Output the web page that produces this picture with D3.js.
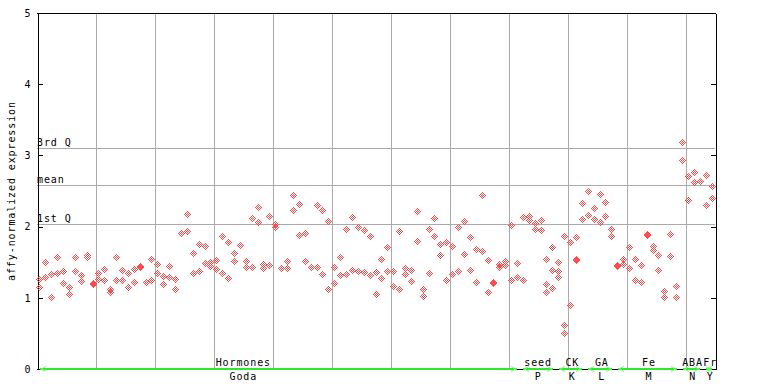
<!DOCTYPE html>
<meta charset="utf-8">

<!-- Load d3.js -->
<script src="https://cdn.jsdelivr.net/npm/d3@7"></script>

<style>
  body { margin: 0; background: #fff; }
  text { font-family: "DejaVu Sans Mono", monospace; font-size: 10px; letter-spacing: 0.9px; }
</style>

<!-- Create a div where the graph will take place -->
<div id="my_dataviz"></div>

<script>

// expression values, one inner list per sample column (replicates)
var expr = [
  [1.26,1.15],[1.49,1.29],[1.33,1.00],[1.56,1.34],[1.37,1.20],[1.15,1.04],[1.56,1.37],[1.32,1.23],[1.59,1.57],[1.20,1.18],
  [1.34,1.26],[1.40,1.25],[1.12,1.08],[1.56,1.25],[1.39,1.25],[1.34,1.15],[1.40,1.22],[1.44,1.43],[1.22,1.21],[1.54,1.25],
  [1.47,1.34],[1.30,1.18],[1.44,1.29],[1.26,1.12],[1.91],[2.17,1.93],[1.62,1.34],[1.75,1.37],[1.72,1.48],[1.50,1.44],
  [1.53,1.40],[1.86,1.34],[1.78,1.27],[1.62,1.51],[1.74],[1.51,1.43],[2.12,1.43],[2.27,2.06],[1.47,1.41],[2.14,1.46],
  [2.03,1.99],[1.41],[1.51,1.41],[2.44,2.23],[2.31,1.88],[1.91,1.51],[1.43],[2.30,1.43],[2.23,1.33],[2.07,1.12],
  [1.43,1.20],[1.57,1.32],[1.96,1.33],[2.13,1.39],[1.99,1.37],[1.95,1.36],[1.86,1.32],[1.36,1.04],[1.54,1.27],[1.70,1.37],
  [1.37,1.16],[1.93,1.11],[1.41,1.33],[1.39,1.23],[2.21,1.79],[1.12,1.02],[1.96,1.34],[2.12,1.86],[1.75,1.60],[1.77,1.25],
  [1.72,1.33],[1.99,1.37],[2.07,1.61],[1.85,1.39],[1.68,1.22],[2.44,1.65],[1.53,1.08],[1.21,1.20],[1.47,1.43],[1.51,1.46],
  [2.02,1.25],[1.48,1.29],[2.13,1.25],[2.14,2.09],[2.05,1.96],[2.09,1.95],[1.54,1.19,1.08],[1.71,1.39,1.13],[1.50,1.37,1.29],[1.86,0.61,0.50],
  [1.78,0.89],[1.84,1.54,1.53],[2.33,2.10],[2.50,2.16],[2.26,2.10],[2.45,2.06],[2.34,2.14],[1.96,1.86],[1.45,1.44],[1.54,1.47],
  [1.71,1.41],[1.54,1.25],[1.46,1.22],[1.89,1.88],[1.72,1.67],[1.60,1.39],[1.09,1.01],[1.89,1.58],[1.16,1.01],[3.18,2.93],
  [2.71,2.36],[2.76,2.62],[2.64,2.63],[2.72,2.30],[2.57,2.40]
];

// sample groups along the bottom
var groupTop    = ["Hormones", "seed", "CK", "GA", "Fe", "ABA", "Fr"];
var groupBottom = ["Goda", "P", "K", "L", "M", "N", "Y"];
var groupStart  = [0, 82, 88, 93, 98, 109, 113];
var groupEnd    = [81, 87, 92, 97, 108, 112, 114];
var groupLabelAt = [34.5, 84.5, 90.3, 95.3, 103.3, 110.7, 113.7];

// quartile / mean reference lines
var refNames  = ["3rd Q", "mean", "1st Q"];
var refValues = [3.10, 2.58, 2.03];

var yTicks = [0, 1, 2, 3, 4, 5];

var W = 768, H = 384;
var margin = {top: 13, right: 53, bottom: 15, left: 37};
var pLeft = margin.left, pRight = W - margin.right, pTop = margin.top, pBottom = H - margin.bottom;

var svg = d3.select("#my_dataviz")
  .append("svg")
    .attr("width", W)
    .attr("height", H)
    .attr("shape-rendering", "crispEdges");

var x = d3.scaleLinear()
  .domain([-0.5, expr.length - 0.5])
  .range([pLeft, pRight]);

var y = d3.scaleLinear()
  .domain([0, 5])
  .range([pBottom, pTop]);

var px = function(v) { return Math.round(v) + 0.5; };

// vertical grid every 10 samples
svg.append("g")
  .selectAll("line")
  .data(d3.range(10, expr.length, 10))
  .enter().append("line")
    .attr("x1", function(d) { return px(x(d - 0.5)); })
    .attr("x2", function(d) { return px(x(d - 0.5)); })
    .attr("y1", pTop)
    .attr("y2", pBottom)
    .attr("stroke", "#aaa");

// reference lines + labels
svg.append("g")
  .selectAll("line")
  .data(refValues)
  .enter().append("line")
    .attr("x1", pLeft)
    .attr("x2", pRight)
    .attr("y1", function(d) { return px(y(d)); })
    .attr("y2", function(d) { return px(y(d)); })
    .attr("stroke", "#aaa");

svg.append("g")
  .selectAll("text")
  .data(refValues)
  .enter().append("text")
    .attr("x", pLeft)
    .attr("y", function(d) { return Math.round(y(d)) - 2; })
    .text(function(d, i) { return refNames[i]; });

// frame
svg.append("line").attr("x1", pLeft).attr("x2", pRight).attr("y1", pTop + 0.5).attr("y2", pTop + 0.5).attr("stroke", "#000");
svg.append("line").attr("x1", pLeft).attr("x2", pRight).attr("y1", pBottom + 0.5).attr("y2", pBottom + 0.5).attr("stroke", "#000");

// left axis, ticks pointing in
var yAxisL = svg.append("g")
  .attr("transform", "translate(" + (pLeft + 0.5) + ",0)")
  .call(d3.axisLeft(y).tickValues(yTicks).tickSizeInner(-5).tickSizeOuter(0).tickPadding(6).tickFormat(d3.format("d")));
yAxisL.attr("font-family", null).attr("font-size", null);
yAxisL.selectAll("text").attr("fill", "#000");

// right axis, ticks only
svg.append("g")
  .attr("transform", "translate(" + (pRight + 0.5) + ",0)")
  .call(d3.axisRight(y).tickValues(yTicks).tickSizeInner(-5).tickSizeOuter(0).tickFormat(""));

// y label
svg.append("text")
  .attr("transform", "translate(15," + ((pTop + pBottom) / 2) + ") rotate(-90)")
  .attr("text-anchor", "middle")
  .text("affy-normalized expression");

// diamond glyph: checkered 7x7 diamond
var glyph = [];
for (var dx = -3; dx <= 3; dx++) {
  for (var dy = -3; dy <= 3; dy++) {
    if (Math.abs(dx) + Math.abs(dy) <= 3 && Math.abs(dx + dy) % 2 === 1)
      glyph.push("M" + dx + "," + dy + "h1v1h-1z");
  }
}
glyph = glyph.join("");

var points = [];
expr.forEach(function(vals, i) {
  vals.forEach(function(v) { points.push({col: i, value: v}); });
});

svg.append("g")
  .selectAll("path")
  .data(points)
  .enter().append("path")
    .attr("d", glyph)
    .attr("transform", function(d) {
      return "translate(" + Math.floor(x(d.col)) + "," + Math.floor(y(d.value)) + ")";
    })
    .attr("fill", "#ff4d4d");

// group bars along the x axis
var groups = svg.append("g");
groupStart.forEach(function(s, i) {
  var x0 = Math.round(x(s)), x1 = Math.round(x(groupEnd[i]));
  groups.append("rect")
    .attr("x", x0).attr("y", pBottom - 1)
    .attr("width", x1 - x0).attr("height", 2)
    .attr("fill", "#2ee82e");
  groups.append("path")
    .attr("d", "M" + (x0 + 6) + "," + (pBottom - 2.5) + "L" + (x0 + 1) + "," + pBottom + "L" + (x0 + 6) + "," + (pBottom + 2.5))
    .attr("fill", "none").attr("stroke", "#66ff66").attr("shape-rendering", "auto");
  groups.append("path")
    .attr("d", "M" + (x1 - 6) + "," + (pBottom - 2.5) + "L" + (x1 - 1) + "," + pBottom + "L" + (x1 - 6) + "," + (pBottom + 2.5))
    .attr("fill", "none").attr("stroke", "#66ff66").attr("shape-rendering", "auto");
});

svg.append("g")
  .selectAll("text")
  .data(groupTop)
  .enter().append("text")
    .attr("x", function(d, i) { return x(groupLabelAt[i]); })
    .attr("y", pBottom - 3)
    .attr("text-anchor", "middle")
    .text(function(d) { return d; });

svg.append("g")
  .selectAll("text")
  .data(groupBottom)
  .enter().append("text")
    .attr("x", function(d, i) { return x(groupLabelAt[i]); })
    .attr("y", pBottom + 11)
    .attr("text-anchor", "middle")
    .text(function(d) { return d; });

</script>
